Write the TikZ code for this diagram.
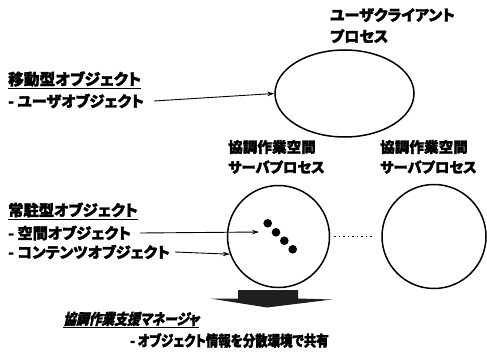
\documentclass[tikz,border=0pt]{standalone}
\usepackage{fontspec}
\setmainfont{Noto Sans CJK JP}[RawFeature=+palt,BoldFeatures={FakeBold=2}]
\newfontfamily\jpit{Noto Sans CJK JP}[RawFeature=+palt,FakeSlant=0.25,FakeStretch=0.85,BoldFeatures={FakeBold=2}]
\newfontfamily\jpn{Noto Sans CJK JP}[RawFeature=+palt,FakeStretch=0.83,BoldFeatures={FakeBold=2}]
\usetikzlibrary{shapes.geometric,arrows.meta}
\newcommand\fsz[1]{\fontsize{#1}{#1}\selectfont\bfseries}
\begin{document}
\begin{tikzpicture}[x=1pt,y=-1pt,
  txt/.style={anchor=west,inner sep=0pt,font=\fsz{15}},
  proc/.style={draw,line width=1.5pt,inner sep=0pt},
  arr/.style={line width=0.9pt,-{Stealth[length=7pt,width=4.5pt]}},
  dotc/.style={circle,fill,inner sep=0pt,minimum size=8.6pt}]
\useasboundingbox (0,0) rectangle (487,353);
% processes
\node[proc,ellipse,minimum width=139pt,minimum height=87pt] (uc) at (344.5,93.5) {};
\node[proc,circle,minimum size=102pt] (s1) at (278.5,236.5) {};
\node[proc,circle,minimum size=104pt] (s2) at (434,236.5) {};
% process labels
\node[txt,font=\fsz{15.1}] (lu1) at (330,15) {ユーザクライアント};
\node[txt,font=\fsz{15.1}] (lu2) at (330,36) {プロセス};
\node[txt,font=\fsz{14.6}] (ls1a) at (228,147) {協調作業空間};
\node[txt,font=\fsz{14.3}] (ls1b) at (228,167) {サーバプロセス};
\node[txt,font=\fsz{14.6}] (ls2a) at (380,147) {協調作業空間};
\node[txt,font=\fsz{14.3}] (ls2b) at (380,167) {サーバプロセス};
% left texts
\node[txt,font=\fsz{15.7}] (mob) at (8,80) {\underline{移動型オブジェクト}};
\node[txt,font=\fsz{15.1}] (uobj) at (8,101) {- ユーザオブジェクト};
\node[txt,font=\fsz{15.3}] (res) at (8,211) {\underline{常駐型オブジェクト}};
\node[txt,font=\fsz{15.2}] (sobj) at (8,233) {- 空間オブジェクト};
\node[txt,font=\fsz{15}] (cobj) at (8,252) {- コンテンツオブジェクト};
\node[txt,font=\jpit\fsz{15}] (mgr) at (63,320) {\underline{協調作業支援マネージャ}};
\node[txt,font=\jpn\fsz{15}] (share) at (130,340.5) {- オブジェクト情報を分散環境で共有};
% dots
\node[dotc] (d1) at (267.7,223.3) {};
\node[dotc] (d2) at (276,232.3) {};
\node[dotc] (d3) at (284.3,240.7) {};
\node[dotc] (d4) at (292.7,249.3) {};
\coordinate (a1end) at (259,232);
% arrows
\draw[arr] ([xshift=10pt]uobj.east) -- (uc.west);
\draw[arr] ([xshift=9pt]sobj.east) -- (a1end);
\draw[arr] ([xshift=5pt]cobj.east) -- (s1.200);
\draw[line width=1.3pt,dash pattern=on 1.3pt off 3.2pt] ([xshift=4pt]s1.east) -- ([xshift=-7pt]s2.west);
% block arrow
\fill[black!88] (238,290) -- (298,290) -- (298,298.5) -- (332,299.5) -- (267,307.5) -- (210,298.5) -- (238,298.5) -- cycle;
\end{tikzpicture}
\end{document}
